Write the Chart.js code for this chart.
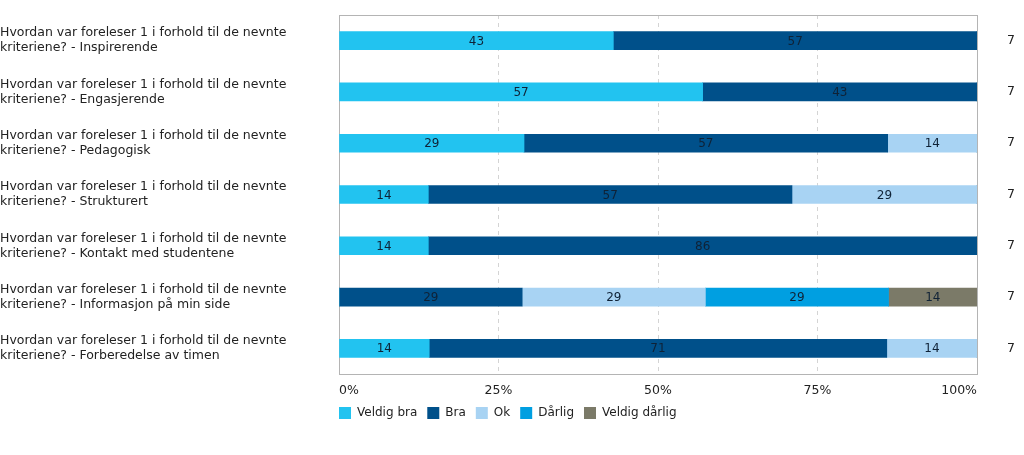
<!DOCTYPE html>
<html>
<head>
<meta charset="utf-8">
<script src="https://cdn.jsdelivr.net/npm/chart.js@4"></script>
<style>
html,body{margin:0;padding:0;background:#fff;}
#wrap{width:1024px;height:455px;}
</style>
</head>
<body>
<div id="wrap"><canvas id="c" width="1024" height="455"></canvas></div>
<script>
const categories = [
  ["Hvordan var foreleser 1 i forhold til de nevnte", "kriteriene? - Inspirerende"],
  ["Hvordan var foreleser 1 i forhold til de nevnte", "kriteriene? - Engasjerende"],
  ["Hvordan var foreleser 1 i forhold til de nevnte", "kriteriene? - Pedagogisk"],
  ["Hvordan var foreleser 1 i forhold til de nevnte", "kriteriene? - Strukturert"],
  ["Hvordan var foreleser 1 i forhold til de nevnte", "kriteriene? - Kontakt med studentene"],
  ["Hvordan var foreleser 1 i forhold til de nevnte", "kriteriene? - Informasjon på min side"],
  ["Hvordan var foreleser 1 i forhold til de nevnte", "kriteriene? - Forberedelse av timen"]
];
const counts = ["7", "7", "7", "7", "7", "7", "7"];
const veldigBra    = [43, 57, 29, 14, 14, 0, 14];
const bra          = [57, 43, 57, 57, 86, 29, 71];
const ok           = [0, 0, 14, 29, 0, 29, 14];
const darlig       = [0, 0, 0, 0, 0, 29, 0];
const veldigDarlig = [0, 0, 0, 0, 0, 14, 0];
const xTicks = [0, 25, 50, 75, 100];

const FONT = "DejaVu Sans";
const FS = 12;
const FS_AX = 12.5;

// rows are normalised so that each stacked bar fills 0-100 % (displayed values are rounded)
const seriesRaw = [veldigBra, bra, ok, darlig, veldigDarlig];
const rowSums = categories.map((_, j) => seriesRaw.reduce((s, arr) => s + arr[j], 0));
const norm = arr => arr.map((v, j) => v / rowSums[j] * 100);

const frame = {
  id: 'frame',
  beforeDatasetsDraw(chart) {
    const a = chart.chartArea, ctx = chart.ctx;
    ctx.save();
    ctx.strokeStyle = '#b4b4b4';
    ctx.lineWidth = 1;
    ctx.strokeRect(Math.round(a.left) + 0.5, Math.round(a.top) + 0.5, Math.round(a.right - a.left), Math.round(a.bottom - a.top));
    ctx.restore();
  }
};

const valueLabels = {
  id: 'valueLabels',
  afterDatasetsDraw(chart) {
    const ctx = chart.ctx;
    ctx.save();
    ctx.font = FS + 'px "' + FONT + '"';
    ctx.fillStyle = '#0f2236';
    ctx.textAlign = 'center';
    ctx.textBaseline = 'middle';
    chart.data.datasets.forEach((ds, i) => {
      const meta = chart.getDatasetMeta(i);
      meta.data.forEach((el, j) => {
        const v = ds.raw[j];
        if (!v) return;
        const p = el.getProps(['x', 'y', 'base'], true);
        ctx.fillText(String(v), (p.base + p.x) / 2, p.y + 1);
      });
    });
    ctx.restore();
  }
};

const legendShift = {
  id: 'legendShift',
  afterLayout(chart) {
    const lg = chart.legend;
    if (lg) {
      const pad = lg.options.labels.padding;
      lg.left = chart.chartArea.left - pad;
      lg.top = chart.chartArea.bottom + 23;
    }
  }
};

const mk = (label, raw, color) => ({
  label, raw, data: norm(raw), backgroundColor: color, borderWidth: 0, barThickness: 18, yAxisID: 'y'
});

new Chart(document.getElementById('c'), {
  type: 'bar',
  data: {
    labels: categories,
    datasets: [
      mk('Veldig bra', veldigBra, '#22c3f0'),
      mk('Bra', bra, '#00508a'),
      mk('Ok', ok, '#a8d3f3'),
      mk('Dårlig', darlig, '#009fe1'),
      mk('Veldig dårlig', veldigDarlig, '#7b7a68')
    ]
  },
  options: {
    indexAxis: 'y',
    responsive: false,
    animation: false,
    layout: { padding: { top: 15, bottom: 16, left: 0, right: 0 } },
    plugins: {
      legend: {
        position: 'bottom',
        align: 'start',
        labels: {
          boxWidth: 12, boxHeight: 12, padding: 10, color: '#222',
          font: { family: FONT, size: FS }
        }
      },
      tooltip: { enabled: false }
    },
    scales: {
      x: {
        stacked: true, min: 0, max: 100,
        afterBuildTicks(scale) { scale.ticks = xTicks.map(v => ({ value: v })); },
        ticks: {
          align: 'inner', padding: 9, color: '#222',
          font: { family: FONT, size: FS_AX },
          callback: v => v + '%'
        },
        grid: {
          drawTicks: false,
          color: c => (c.tick && (c.tick.value === 0 || c.tick.value === 100)) ? 'rgba(0,0,0,0)' : '#d4d4d4'
        },
        border: { display: false, dash: [4, 4] }
      },
      y: {
        stacked: true,
        afterFit(scale) { scale.width = 339; },
        ticks: {
          crossAlign: 'far', padding: 0, color: '#222',
          font: { family: FONT, size: FS_AX, lineHeight: 1.2 }
        },
        grid: { display: false, drawTicks: false },
        border: { display: false }
      },
      y2: {
        type: 'category',
        position: 'right',
        labels: counts,
        offset: true,
        afterFit(scale) { scale.width = 47; },
        ticks: { padding: 0, color: '#222', font: { family: FONT, size: FS_AX } },
        grid: { display: false, drawTicks: true, tickLength: 30 },
        border: { display: false }
      }
    }
  },
  plugins: [frame, valueLabels, legendShift]
});
</script>
</body>
</html>
